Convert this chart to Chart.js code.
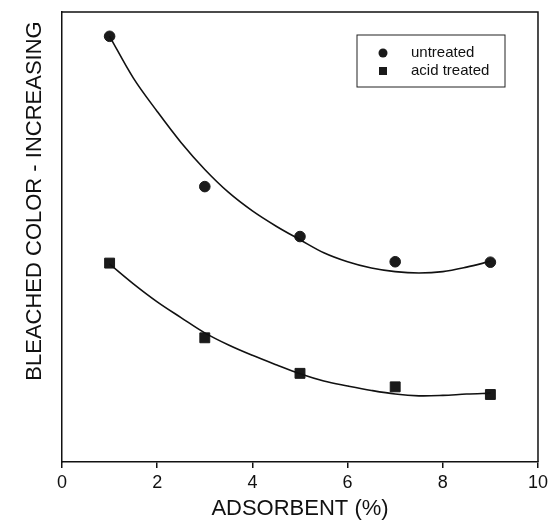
<!DOCTYPE html>
<html>
<head>
<meta charset="utf-8">
<script src="https://cdn.jsdelivr.net/npm/chart.js@4.4.1/dist/chart.umd.min.js"></script>
<style>
  body { margin: 0; background: #fff; }
</style>
</head>
<body>
<canvas id="bleachChart" width="552" height="530"></canvas>
<script>
// measured points
const doseX = [1, 3, 5, 7, 9];
const untreated = [94.6, 61.2, 50.1, 44.5, 44.4];
const acidTreated = [44.2, 27.6, 19.7, 16.7, 15.0];

// fitted curves
const fitX = [1, 1.5, 2, 2.5, 3, 3.5, 4, 4.5, 5, 5.5, 6, 6.5, 7, 7.5, 8, 8.5, 9];
const untreatedFit = [94.6, 85.3, 77.9, 71.0, 65.0, 59.9, 55.8, 52.4, 49.4, 46.5, 44.5, 43.1, 42.3, 42.0, 42.3, 43.3, 44.6];
const acidFit = [44.0, 39.6, 35.6, 32.1, 28.7, 26.0, 23.7, 21.6, 19.6, 18.0, 16.9, 15.9, 15.1, 14.7, 14.8, 15.1, 15.3];

const xTicks = [0, 2, 4, 6, 8, 10];
const seriesNames = ['untreated', 'acid treated'];
const yTitle = 'BLEACHED COLOR - INCREASING';
const xTitle = 'ADSORBENT (%)';

const fontFamily = "'Liberation Sans', Arial, sans-serif";
const ink = '#111';

function pairs(xs, ys) {
	return xs.map((x, i) => ({ x: x, y: ys[i] }));
}

// frame, y title and boxed legend
const extras = {
	id: 'extras',
	afterDraw(chart) {
		const ctx = chart.ctx;
		const a = chart.chartArea;
		ctx.save();
		ctx.strokeStyle = ink;
		ctx.lineWidth = 1.5;
		ctx.beginPath();
		ctx.moveTo(a.left, a.top);
		ctx.lineTo(a.right, a.top);
		ctx.lineTo(a.right, a.bottom);
		ctx.stroke();

		// y axis title
		ctx.fillStyle = ink;
		ctx.font = '22px ' + fontFamily;
		ctx.textAlign = 'center';
		ctx.textBaseline = 'middle';
		ctx.translate(35, 201);
		ctx.rotate(-Math.PI / 2);
		ctx.fillText(yTitle, 0, 0);
		ctx.restore();

		// legend
		ctx.save();
		ctx.strokeStyle = '#222';
		ctx.lineWidth = 1;
		ctx.strokeRect(357, 35, 148, 52);
		ctx.fillStyle = '#1a1a1a';
		ctx.beginPath();
		ctx.arc(383, 53, 4.5, 0, Math.PI * 2);
		ctx.fill();
		ctx.fillRect(379, 67, 8, 8);
		ctx.fillStyle = ink;
		ctx.font = '15px ' + fontFamily;
		ctx.textAlign = 'left';
		ctx.textBaseline = 'middle';
		ctx.fillText(seriesNames[0], 411, 53);
		ctx.fillText(seriesNames[1], 411, 71);
		ctx.restore();
	}
};

const ctx = document.getElementById('bleachChart').getContext('2d');
const myChart = new Chart(ctx, {
	type: 'scatter',
	data: {
		datasets: [{
			label: seriesNames[0] + ' fit',
			data: pairs(fitX, untreatedFit),
			showLine: true,
			borderColor: ink,
			borderWidth: 1.6,
			pointRadius: 0,
			tension: 0.35
		}, {
			label: seriesNames[1] + ' fit',
			data: pairs(fitX, acidFit),
			showLine: true,
			borderColor: ink,
			borderWidth: 1.6,
			pointRadius: 0,
			tension: 0.35
		}, {
			label: seriesNames[0],
			data: pairs(doseX, untreated),
			pointStyle: 'circle',
			pointRadius: 5.3,
			backgroundColor: '#1a1a1a',
			borderColor: '#1a1a1a',
			borderWidth: 1
		}, {
			label: seriesNames[1],
			data: pairs(doseX, acidTreated),
			pointStyle: 'rect',
			pointRadius: 7,
			backgroundColor: '#1a1a1a',
			borderColor: '#1a1a1a',
			borderWidth: 1
		}]
	},
	options: {
		responsive: false,
		animation: false,
		layout: {
			padding: { left: 0, right: 10, top: 12, bottom: 0 }
		},
		plugins: {
			legend: { display: false },
			tooltip: { enabled: false }
		},
		scales: {
			x: {
				type: 'linear',
				min: 0,
				max: 10,
				afterBuildTicks: function(scale) {
					scale.ticks = xTicks.map(v => ({ value: v }));
				},
				afterFit: function(scale) {
					scale.height = 68;
				},
				grid: {
					drawOnChartArea: false,
					drawTicks: true,
					tickLength: 6,
					color: ink,
					lineWidth: 1.5
				},
				border: { display: true, color: ink, width: 1.5 },
				ticks: {
					color: ink,
					padding: 4,
					font: { family: fontFamily, size: 18 }
				},
				title: {
					display: true,
					text: xTitle,
					color: ink,
					font: { family: fontFamily, size: 22 },
					padding: { top: 0, bottom: 8 }
				}
			},
			y: {
				type: 'linear',
				min: 0,
				max: 100,
				afterFit: function(scale) {
					scale.width = 62;
				},
				grid: { display: false },
				border: { display: true, color: ink, width: 1.5 },
				ticks: { display: false }
			}
		}
	},
	plugins: [extras]
});
</script>
</body>
</html>
